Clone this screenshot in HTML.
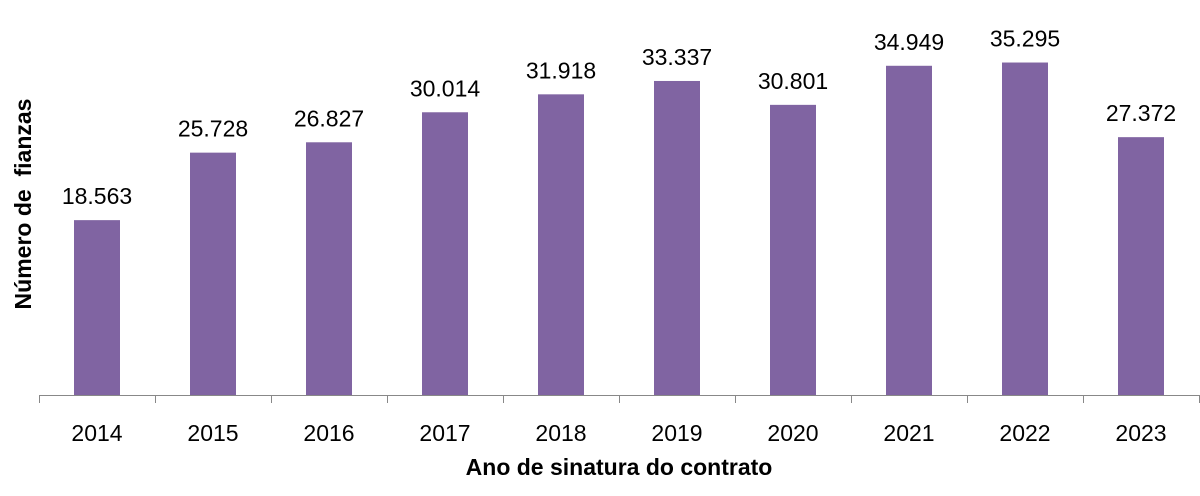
<!DOCTYPE html>
<html><head><meta charset="utf-8"><style>body{margin:0;background:#fff}</style></head><body>
<svg width="1200" height="491" xmlns="http://www.w3.org/2000/svg" font-family="Liberation Sans, sans-serif">
<rect width="1200" height="491" fill="#fff"/>
<g id="bars" fill="#8064A2"></g>
<line x1="39" y1="395.5" x2="1200" y2="395.5" stroke="#888" stroke-width="1"/>
<g stroke="#888" stroke-width="1" id="ticks"></g>
<g id="lbl" text-anchor="middle" fill="#000"></g>
<text x="619" y="475" font-size="23" font-weight="bold" text-anchor="middle">Ano de sinatura do contrato</text>
<text transform="translate(31,204) rotate(-90)" font-size="23" font-weight="bold" text-anchor="middle" xml:space="preserve">Número de  fianzas</text>
<script>
var v=[18563,25728,26827,30014,31918,33337,30801,34949,35295,27372],s=0.00942,b=document.getElementById('bars'),t=document.getElementById('ticks'),l=document.getElementById('lbl'),n='http://www.w3.org/2000/svg';
for(var i=0;i<=10;i++){var x=39.5+i*116;var ln=document.createElementNS(n,'line');ln.setAttribute('x1',x);ln.setAttribute('x2',x);ln.setAttribute('y1',395);ln.setAttribute('y2',403);t.appendChild(ln);}
for(var i=0;i<10;i++){var c=39+i*116+58,h=v[i]*s,r=document.createElementNS(n,'rect');r.setAttribute('x',c-23);r.setAttribute('width',46);r.setAttribute('y',395-h);r.setAttribute('height',h);b.appendChild(r);
var tx=document.createElementNS(n,'text');tx.setAttribute('x',c);tx.setAttribute('y',395-h-16);tx.setAttribute('font-size',23);tx.textContent=(v[i]/1000).toFixed(3);l.appendChild(tx);
var ty=document.createElementNS(n,'text');ty.setAttribute('x',c);ty.setAttribute('y',441);ty.setAttribute('font-size',23);ty.textContent=2014+i;l.appendChild(ty);}
</script>
</svg>
</body></html>
